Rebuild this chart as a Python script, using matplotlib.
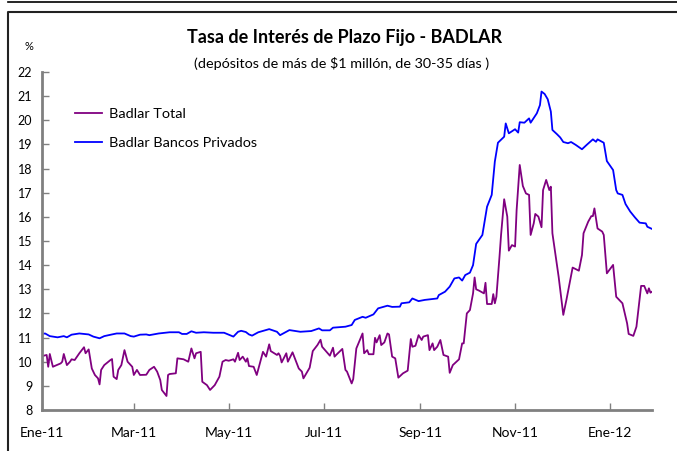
import numpy as np
import matplotlib
matplotlib.use('Agg')
import matplotlib.pyplot as plt
from matplotlib.lines import Line2D

# ---- data (days counted from 2011-01-01) ----
total_days = [0, 3, 4, 5, 7, 8, 12, 13, 14, 16, 18, 19, 21, 24, 27, 28, 30, 32, 34, 36, 37, 38,
              40, 44, 45, 46, 48, 49, 51, 53, 55, 58, 59, 61, 63, 67, 69, 72, 74, 76, 77, 80,
              81, 82, 86, 87, 91, 94, 96, 98, 99, 102, 103, 106, 108, 111, 114, 116, 118, 120,
              123, 124, 126, 127, 129, 131, 132, 133, 136, 138, 140, 142, 144, 146, 147, 151,
              152, 153, 154, 157, 158, 161, 165, 167, 168, 172, 174, 177, 179, 180, 185, 187,
              188, 189, 193, 195, 196, 199, 200, 202, 206, 207, 209, 210, 213, 214, 215, 217,
              218, 220, 222, 223, 225, 227, 229, 232, 235, 237, 238, 240, 242, 244, 245, 248,
              249, 251, 252, 254, 256, 258, 261, 262, 264, 268, 270, 271, 273, 275, 277, 278,
              279, 281, 284, 285, 286, 289, 290, 291, 292, 294, 295, 297, 299, 300, 302, 304,
              305, 307, 309, 311, 313, 314, 316, 317, 319, 321, 322, 324, 326, 327, 328, 332,
              335, 337, 341, 345, 347, 348, 351, 353, 354, 355, 357, 360, 361, 363, 367, 369,
              373, 374, 376, 377, 380, 382, 384, 385, 387, 389, 390, 391, 392]
total_vals = [10.23, 10.28, 9.79, 10.32, 9.79, 9.82, 9.93, 10.00, 10.32, 9.86, 10.00, 10.10,
              10.07, 10.35, 10.60, 10.35, 10.51, 9.72, 9.45, 9.31, 9.06, 9.66,
              9.86, 10.07, 10.11, 9.38, 9.28, 9.66, 9.86, 10.48, 10.00, 9.79, 9.45, 9.66, 9.45,
              9.46, 9.66, 9.79, 9.59, 9.24, 8.83, 8.58,
              9.45, 9.49, 9.52, 10.14, 10.10, 10.00, 10.55, 10.14, 10.35, 10.41, 9.17, 9.03,
              8.83, 9.03, 9.38, 10.00, 10.07, 10.04,
              10.10, 10.00, 10.37, 10.07, 10.21, 10.00, 10.14, 9.82, 9.79, 9.45, 9.93, 10.41,
              10.21, 10.72, 10.44, 10.28,
              10.35, 10.24, 9.97, 10.35, 10.00, 10.39, 9.72, 9.59, 9.31, 9.75, 10.44, 10.69,
              10.91, 10.62, 10.25, 10.58,
              10.21, 10.28, 10.53, 9.66, 9.59, 9.10, 9.28, 10.55, 11.17, 10.35, 10.48, 10.31,
              10.31, 10.99, 10.80, 11.10,
              10.69, 10.80, 11.17, 11.13, 10.21, 10.14, 9.34, 9.52, 9.63, 10.94, 10.62, 10.66,
              11.10, 10.90, 11.04, 11.10,
              10.48, 10.76, 10.48, 10.62, 10.90, 10.28, 10.21, 9.54, 9.86, 10.10, 10.76, 10.76,
              12.00, 12.14, 12.83, 13.49,
              13.00, 12.94, 12.83, 13.27, 12.39, 12.39, 12.80, 12.42, 12.69, 14.35, 15.25, 16.73,
              16.01, 14.60, 14.83, 14.77,
              16.28, 18.15, 17.28, 16.97, 16.91, 15.25, 15.73, 16.12, 16.01, 15.57, 17.11, 17.53,
              17.11, 17.25, 15.32, 13.52,
              11.94, 12.56, 13.90, 13.77, 14.42, 15.32, 15.80, 16.03, 16.03, 16.35, 15.52, 15.39,
              15.25, 13.66, 14.01, 12.69,
              12.42, 12.14, 11.59, 11.15, 11.07, 11.45, 12.56, 13.14, 13.14, 12.83, 13.04, 12.86,
              12.90]

priv_days = [0, 2, 5, 10, 14, 16, 19, 24, 30, 33, 37, 40, 45, 48, 53, 57, 59, 63, 67, 69, 75,
             82, 88, 90, 93, 96, 99, 104, 110, 117, 120, 123, 126, 128, 131, 133, 135, 139,
             146, 151, 153, 159, 166, 173, 178, 180, 185, 187, 195, 199, 201, 206, 208, 213,
             216, 222, 225, 230, 231, 236, 238, 242, 246, 254, 255, 259, 262, 265, 268, 270,
             272, 275, 277, 279, 283, 286, 289, 291, 293, 297, 298, 300, 304, 306, 307, 310,
             313, 314, 318, 320, 321, 323, 325, 327, 328, 331, 333, 335, 338, 340, 343, 347,
             350, 354, 356, 357, 361, 363, 367, 369, 370, 373, 375, 378, 381, 384, 388, 389,
             392]
priv_vals = [11.15, 11.17, 11.06, 11.01, 11.06, 11.01, 11.12, 11.17, 11.13, 11.04, 10.97, 11.06,
             11.13, 11.17, 11.17, 11.06, 11.04, 11.12, 11.13, 11.10, 11.17,
             11.22, 11.22, 11.15, 11.15, 11.26, 11.20, 11.22, 11.20, 11.20, 11.12, 11.04, 11.24,
             11.28, 11.23, 11.13, 11.08, 11.22,
             11.35, 11.24, 11.10, 11.31, 11.24, 11.27, 11.38, 11.30, 11.30, 11.41, 11.45, 11.52,
             11.73, 11.86, 11.82, 11.96,
             12.21, 12.32, 12.27, 12.28, 12.42, 12.46, 12.62, 12.51, 12.56, 12.62, 12.76, 12.90,
             13.11, 13.45, 13.49, 13.36,
             13.59, 13.69, 14.00, 14.88, 15.25, 16.42, 16.91, 18.29, 19.07, 19.32, 19.87, 19.46,
             19.63, 19.49, 19.92, 19.90,
             20.08, 19.90, 20.29, 20.63, 21.19, 21.09, 20.87, 20.36, 19.60, 19.42, 19.29, 19.10,
             19.05, 19.10, 18.98, 18.80,
             18.98, 19.21, 19.11, 19.21, 19.07, 18.31, 17.94, 17.11, 16.97, 16.91, 16.53, 16.22,
             15.98, 15.76, 15.73, 15.59,
             15.50]

tick_dates = ['2011-01-01', '2011-03-01', '2011-05-01', '2011-07-01', '2011-09-01',
              '2011-11-01', '2012-01-01']
tick_labels = ['Ene-11', 'Mar-11', 'May-11', 'Jul-11', 'Sep-11', 'Nov-11', 'Ene-12']
y_ticks = list(range(8, 23))

series_names = ['Badlar Total', 'Badlar Bancos Privados']
title = 'Tasa de Interés de Plazo Fijo - BADLAR'
subtitle = '(depósitos de más de $1 millón, de 30-35 días )'

# ---- figure ----
plt.rcParams['font.family'] = ['Lato', 'DejaVu Sans']
W, H = 677, 451
fig = plt.figure(figsize=(W / 100, H / 100), dpi=100)
ax = fig.add_axes([42 / W, (H - 410) / H, 610 / W, 338 / H])

base = np.datetime64('2011-01-01')
t_dates = base + np.array(total_days).astype('timedelta64[D]')
p_dates = base + np.array(priv_days).astype('timedelta64[D]')

ax.plot(t_dates, total_vals, color='#800080', lw=1.3, label=series_names[0])
ax.plot(p_dates, priv_vals, color='#0000FF', lw=1.3, label=series_names[1])

ax.set_xlim(base, base + np.timedelta64(392, 'D'))
ax.set_ylim(8, 22)
ax.set_yticks(y_ticks)
ax.set_yticklabels([str(v) for v in y_ticks], fontsize=9)
ax.set_xticks(np.array(tick_dates, dtype='datetime64[D]'))
ax.set_xticklabels(tick_labels, fontsize=10)

for s in ['top', 'right']:
    ax.spines[s].set_visible(False)
for s in ['left', 'bottom']:
    ax.spines[s].set_color('#808080')
    ax.spines[s].set_linewidth(2)
ax.tick_params(axis='both', direction='in', length=5, width=1, color='#808080')
ax.tick_params(axis='y', pad=7)
ax.tick_params(axis='x', pad=12)

leg = ax.legend(loc='upper left', bbox_to_anchor=(75 / W, 1 - 108 / H),
                bbox_transform=fig.transFigure, frameon=False, fontsize=10.4,
                handlelength=1.9, handletextpad=0.42, labelspacing=1.15,
                borderpad=0, borderaxespad=0)

fig.text(345 / W, 1 - 37 / H, title, ha='center', va='center', fontsize=13, fontweight='bold')
fig.text(342 / W, 1 - 63 / H, subtitle, ha='center', va='center', fontsize=10.4)
fig.text(29 / W, 1 - 47 / H, '%', ha='center', va='center', fontsize=8)

# frame lines
fig.add_artist(Line2D([8 / W, 1], [1 - 1.5 / H, 1 - 1.5 / H], transform=fig.transFigure,
                      color='black', lw=1.2))
fig.add_artist(Line2D([7.5 / W, 7.5 / W, 1], [0, 1 - 12 / H, 1 - 12 / H],
                      transform=fig.transFigure, color='#222222', lw=1.5))

fig.savefig('out.png', dpi=100)
